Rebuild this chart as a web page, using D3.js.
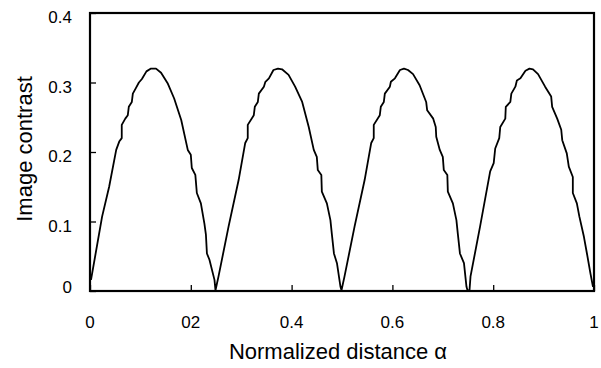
<!DOCTYPE html>
<html>
<head>
<meta charset="utf-8">
<script src="https://cdn.jsdelivr.net/npm/d3@7"></script>
<style>
  html, body { margin: 0; padding: 0; background: #fff; }
  svg { display: block; }
  text { font-family: "Liberation Sans", Arial, sans-serif; fill: #000; }
</style>
</head>
<body>
<svg id="chart" width="601" height="368"></svg>
<script>
// ---- data ----
const xTickValues = [0, 0.2, 0.4, 0.6, 0.8, 1];
const xTickLabels = ["0", "02", "0.4", "0.6", "0.8", "1"];
const yTickValues = [0, 0.1, 0.2, 0.3, 0.4];
const yTickLabels = ["0", "0.1", "0.2", "0.3", "0.4"];
const xTitle = "Normalized distance \u03b1";
const yTitle = "Image contrast";

// normalized distance alpha
const alpha = [
  0.002, 0.024, 0.038, 0.052, 0.058, 0.063, 0.063, 0.070, 0.075, 0.077, 0.083, 0.085, 0.091, 0.097, 0.103, 0.112, 0.121, 0.131, 0.141, 0.154, 0.167, 0.181, 0.194, 0.200, 0.202, 0.209, 0.212, 0.220, 0.227, 0.230, 0.232, 0.237, 0.247, 0.249,
  0.255, 0.275, 0.295, 0.308, 0.313, 0.313, 0.325, 0.327, 0.333, 0.335, 0.345, 0.348, 0.355, 0.364, 0.373, 0.381, 0.394, 0.407, 0.421, 0.434, 0.444, 0.450, 0.452, 0.459, 0.460, 0.470, 0.477, 0.480, 0.484, 0.490, 0.497, 0.499,
  0.505, 0.525, 0.545, 0.558, 0.563, 0.563, 0.575, 0.577, 0.583, 0.585, 0.595, 0.597, 0.605, 0.615, 0.623, 0.631, 0.641, 0.654, 0.667, 0.669, 0.681, 0.686, 0.687, 0.694, 0.700, 0.702, 0.709, 0.710, 0.720, 0.727, 0.730, 0.734, 0.742, 0.747, 0.749,
  0.753, 0.755, 0.774, 0.794, 0.801, 0.804, 0.812, 0.814, 0.824, 0.825, 0.834, 0.836, 0.844, 0.847, 0.854, 0.864, 0.872, 0.879, 0.889, 0.903, 0.915, 0.917, 0.927, 0.935, 0.937, 0.946, 0.950, 0.958, 0.958, 0.966, 0.971, 0.980, 0.986, 0.993, 0.998
];
// image contrast
const contrast = [
  0.016, 0.107, 0.150, 0.203, 0.215, 0.220, 0.239, 0.248, 0.253, 0.265, 0.272, 0.284, 0.292, 0.300, 0.305, 0.316, 0.320, 0.320, 0.314, 0.299, 0.277, 0.246, 0.203, 0.196, 0.177, 0.167, 0.141, 0.126, 0.097, 0.081, 0.054, 0.045, 0.016, 0.001,
  0.021, 0.093, 0.160, 0.213, 0.220, 0.239, 0.253, 0.265, 0.272, 0.284, 0.294, 0.301, 0.306, 0.318, 0.320, 0.319, 0.311, 0.294, 0.272, 0.236, 0.203, 0.193, 0.174, 0.167, 0.143, 0.126, 0.102, 0.081, 0.054, 0.040, 0.006, 0.001,
  0.021, 0.093, 0.160, 0.213, 0.220, 0.239, 0.253, 0.265, 0.272, 0.284, 0.294, 0.301, 0.306, 0.318, 0.320, 0.318, 0.312, 0.296, 0.272, 0.260, 0.248, 0.236, 0.222, 0.203, 0.193, 0.174, 0.167, 0.143, 0.126, 0.102, 0.081, 0.054, 0.040, 0.006, 0.001,
  0.001, 0.021, 0.093, 0.172, 0.184, 0.205, 0.220, 0.236, 0.248, 0.265, 0.272, 0.284, 0.294, 0.303, 0.306, 0.317, 0.320, 0.319, 0.312, 0.294, 0.280, 0.265, 0.248, 0.232, 0.217, 0.198, 0.179, 0.164, 0.141, 0.126, 0.107, 0.078, 0.054, 0.025, 0.006
];

// ---- layout ----
const mLeft = 90, mRight = 594, mTop = 13, mBottom = 291;
const svg = d3.select("#chart");

const x = d3.scaleLinear().domain([0, 1]).range([mLeft, mRight]);
const y = d3.scaleLinear().domain([0, 0.4]).range([mBottom, mTop]);

// x axis ticks (inward)
const xAxis = d3.axisBottom(x).tickValues(xTickValues).tickSize(-6).tickFormat("");
svg.append("g").attr("transform", `translate(0,${mBottom})`).call(xAxis)
  .call(g => g.select(".domain").remove())
  .call(g => g.selectAll(".tick line").attr("stroke", "#000").attr("stroke-width", 1.3));

// y axis ticks (inward)
const yAxis = d3.axisLeft(y).tickValues(yTickValues).tickSize(-6).tickFormat("");
svg.append("g").attr("transform", `translate(${mLeft},0)`).call(yAxis)
  .call(g => g.select(".domain").remove())
  .call(g => g.selectAll(".tick line").attr("stroke", "#000").attr("stroke-width", 1.3));

// tick labels
svg.append("g").selectAll("text").data(xTickValues).join("text")
  .attr("x", d => x(d)).attr("y", 328)
  .attr("text-anchor", "middle").attr("font-size", 17)
  .text((d, i) => xTickLabels[i]);

svg.append("g").selectAll("text").data(yTickValues).join("text")
  .attr("x", 72).attr("y", d => d === 0 ? y(d) + 2 : y(d) + 10)
  .attr("text-anchor", "end").attr("font-size", 17)
  .text((d, i) => yTickLabels[i]);

// curve
const pts = alpha.map((a, i) => [a, contrast[i]]);
const line = d3.line().x(d => x(d[0])).y(d => y(d[1]));
svg.append("path").datum(pts)
  .attr("d", line).attr("fill", "none").attr("stroke", "#000")
  .attr("stroke-width", 1.8).attr("stroke-linejoin", "round");

// frame
svg.append("rect").attr("x", mLeft).attr("y", mTop)
  .attr("width", mRight - mLeft).attr("height", mBottom - mTop)
  .attr("fill", "none").attr("stroke", "#000").attr("stroke-width", 2.2);

// titles
svg.append("text").attr("x", 338).attr("y", 359)
  .attr("text-anchor", "middle").attr("font-size", 22).text(xTitle);

svg.append("text").attr("transform", "translate(31.5,149) rotate(-90)")
  .attr("text-anchor", "middle").attr("font-size", 22).text(yTitle);
</script>
</body>
</html>
